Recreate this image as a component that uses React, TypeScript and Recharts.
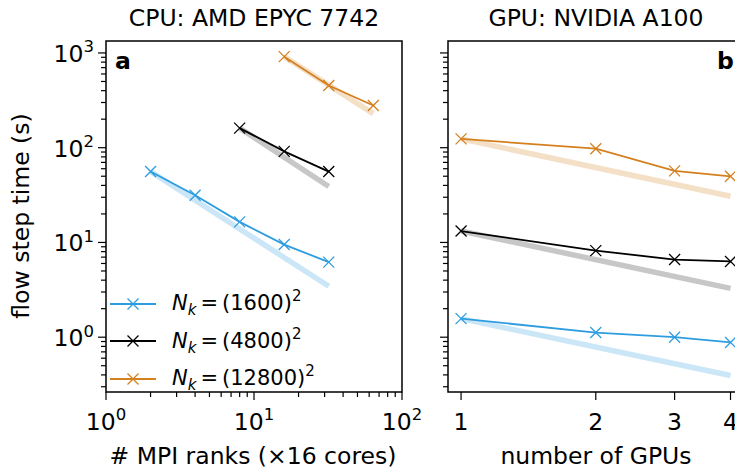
import React from 'react';
import { LineChart, Line, XAxis, YAxis, ReferenceArea, Legend } from 'recharts';

const FONT = '"DejaVu Sans", sans-serif';
const FS = 23.5;
const SUP = 16.5;
const BLUE = '#2d9de0';
const BLACK = '#000000';
const ORANGE = '#d4801f';

// legend
const seriesSizes = ['1600', '4800', '12800'];
const seriesColors = [BLUE, BLACK, ORANGE];

// CPU panel (a): # MPI ranks vs flow step time
const cpuRanksSmall = [2, 4, 8, 16, 32];
const cpuTimeSmall = [56, 31.5, 16.5, 9.5, 6.2];
const cpuRanksMid = [8, 16, 32];
const cpuTimeMid = [161, 91.5, 56];
const cpuRanksLarge = [16, 32, 64];
const cpuTimeLarge = [914, 453, 279];
// ideal scaling guides (endpoints)
const cpuIdealRanksSmall = [2, 32];
const cpuIdealSmall = [56, 3.45];
const cpuIdealRanksMid = [8, 32];
const cpuIdealMid = [161, 39];
const cpuIdealRanksLarge = [16, 64];
const cpuIdealLarge = [914, 229];

// GPU panel (b): number of GPUs vs flow step time
const gpuCount = [1, 2, 3, 4];
const gpuTimeSmall = [1.57, 1.12, 1.0, 0.88];
const gpuTimeMid = [13.2, 8.2, 6.6, 6.3];
const gpuTimeLarge = [124, 97.6, 56.9, 49.9];
const gpuIdealCount = [1, 4];
const gpuIdealSmall = [1.57, 0.394];
const gpuIdealMid = [13.2, 3.28];
const gpuIdealLarge = [124, 30.7];

// ticks
const yMajorTicks = [1, 10, 100, 1000];
const yMinorTicks = [0.3, 0.4, 0.5, 0.6, 0.7, 0.8, 0.9, 2, 3, 4, 5, 6, 7, 8, 9, 20, 30, 40, 50, 60, 70, 80, 90, 200, 300, 400, 500, 600, 700, 800, 900];
const cpuXMajorTicks = [1, 10, 100];
const cpuXMinorTicks = [2, 3, 4, 5, 6, 7, 8, 9, 20, 30, 40, 50, 60, 70, 80, 90];
const gpuXTicks = [1, 2, 3, 4];

const yDomain = [0.264, 1337];
const cpuXDomain = [1, 100];
const gpuXDomain = [0.935, 4.2];

const toPoints = (xs: number[], ys: number[]) => xs.map((x, i) => ({ x, y: ys[i] }));

const crossDot = (color: string) => (props: any) => {
  const { cx, cy, index } = props;
  if (cx == null || cy == null) return <g key={`d${index}`} />;
  const s = 5.5;
  return (
    <path
      key={`d${index}`}
      d={`M${cx - s},${cy - s}L${cx + s},${cy + s}M${cx - s},${cy + s}L${cx + s},${cy - s}`}
      stroke={color}
      strokeWidth={1.3}
      fill="none"
    />
  );
};

const expOf = (v: number) => Math.round(Math.log10(v));

const YTick = (props: any) => {
  const { x, y, payload, showLabel } = props;
  const v = payload.value;
  const major = yMajorTicks.includes(v);
  const len = major ? 8 : 5;
  return (
    <g>
      <line x1={x} x2={x - len} y1={y} y2={y} stroke="#000" strokeWidth={1.2} />
      {major && showLabel && (
        <text x={x - len - 4} y={y + 9} textAnchor="end" fontSize={FS} fontFamily={FONT} fill="#000">
          10<tspan dy={-9.5} fontSize={SUP}>{expOf(v)}</tspan>
        </text>
      )}
    </g>
  );
};

const CpuXTick = (props: any) => {
  const { x, y, payload } = props;
  const v = payload.value;
  const major = cpuXMajorTicks.includes(v);
  const len = major ? 8 : 5;
  return (
    <g>
      <line x1={x} x2={x} y1={y} y2={y + len} stroke="#000" strokeWidth={1.2} />
      {major && (
        <text x={x} y={y + 37.5} textAnchor="middle" fontSize={FS} fontFamily={FONT} fill="#000">
          10<tspan dy={-9.5} fontSize={SUP}>{expOf(v)}</tspan>
        </text>
      )}
    </g>
  );
};

const GpuXTick = (props: any) => {
  const { x, y, payload } = props;
  return (
    <g>
      <line x1={x} x2={x} y1={y} y2={y + 8} stroke="#000" strokeWidth={1.2} />
      <text x={x} y={y + 37.5} textAnchor="middle" fontSize={FS} fontFamily={FONT} fill="#000">
        {payload.value}
      </text>
    </g>
  );
};

const LegendContent = () => (
  <div style={{ fontFamily: FONT, fontSize: 21, color: '#000', lineHeight: 1 }}>
    {seriesSizes.map((size, i) => (
      <div key={size} style={{ display: 'flex', alignItems: 'center', height: 37.5 }}>
        <svg width={46} height={20} style={{ display: 'block' }}>
          <line x1={0} x2={46} y1={10} y2={10} stroke={seriesColors[i]} strokeWidth={1.8} />
          <path d="M17.5,4.5L28.5,15.5M17.5,15.5L28.5,4.5" stroke={seriesColors[i]} strokeWidth={1.3} fill="none" />
        </svg>
        <span style={{ marginLeft: 16, whiteSpace: 'nowrap' }}>
          <i>N</i>
          <span style={{ fontSize: 15, position: 'relative', top: 5 }}><i>k</i></span>
          <span style={{ marginLeft: 4, marginRight: 4 }}>=</span>
          {'('}{size}{')'}
          <span style={{ fontSize: 15, position: 'relative', top: -9 }}>2</span>
        </span>
      </div>
    ))}
  </div>
);

const guideLine = (key: string, pts: { x: number; y: number }[], color: string, op: number) => (
  <Line
    key={key}
    data={pts}
    dataKey="y"
    type="linear"
    stroke={color}
    strokeOpacity={op}
    strokeWidth={5.5}
    dot={false}
    activeDot={false}
    isAnimationActive={false}
    legendType="none"
  />
);

const dataLine = (key: string, pts: { x: number; y: number }[], color: string) => (
  <Line
    key={key}
    data={pts}
    dataKey="y"
    type="linear"
    stroke={color}
    strokeWidth={1.8}
    dot={crossDot(color)}
    activeDot={false}
    isAnimationActive={false}
  />
);

export default function App() {
  return (
    <div style={{ position: 'fixed', left: 0, top: 0, width: 735, height: 476, overflow: 'hidden', background: '#fff' }}>
      <div style={{ position: 'absolute', left: 0, top: 0 }}>
        <LineChart width={440} height={476} margin={{ top: 41, right: 38, bottom: 34, left: 46 }}>
          <XAxis
            dataKey="x"
            type="number"
            scale="log"
            domain={cpuXDomain}
            allowDataOverflow
            ticks={[...cpuXMajorTicks, ...cpuXMinorTicks]}
            interval={0}
            tickSize={0}
            tickMargin={0}
            tickLine={false}
            axisLine={false}
            height={50}
            tick={(p: any) => <CpuXTick {...p} />}
          />
          <YAxis
            type="number"
            scale="log"
            domain={yDomain}
            allowDataOverflow
            ticks={[...yMajorTicks, ...yMinorTicks]}
            interval={0}
            tickSize={0}
            tickMargin={0}
            tickLine={false}
            axisLine={false}
            width={60}
            tick={(p: any) => <YTick {...p} showLabel />}
          />
          {guideLine('ia', toPoints(cpuIdealRanksSmall, cpuIdealSmall), BLUE, 0.25)}
          {guideLine('ib', toPoints(cpuIdealRanksMid, cpuIdealMid), BLACK, 0.22)}
          {guideLine('ic', toPoints(cpuIdealRanksLarge, cpuIdealLarge), ORANGE, 0.25)}
          {dataLine('la', toPoints(cpuRanksSmall, cpuTimeSmall), BLUE)}
          {dataLine('lb', toPoints(cpuRanksMid, cpuTimeMid), BLACK)}
          {dataLine('lc', toPoints(cpuRanksLarge, cpuTimeLarge), ORANGE)}
          <ReferenceArea
            x1={cpuXDomain[0]}
            x2={cpuXDomain[1]}
            y1={yDomain[0]}
            y2={yDomain[1]}
            fill="none"
            fillOpacity={0}
            stroke="#000"
            strokeWidth={1.5}
          />
          <Legend
            layout="horizontal"
            verticalAlign="middle"
            align="center"
            content={() => <LegendContent />}
            wrapperStyle={{ position: 'absolute', left: 110, top: 285, width: 260, height: 115, right: 'auto', bottom: 'auto' }}
          />
        </LineChart>
      </div>
      <div style={{ position: 'absolute', left: 420, top: 0 }}>
        <LineChart width={330} height={476} margin={{ top: 41, right: 10, bottom: 34, left: 8 }}>
          <XAxis
            dataKey="x"
            type="number"
            scale="log"
            domain={gpuXDomain}
            allowDataOverflow
            ticks={gpuXTicks}
            interval={0}
            tickSize={0}
            tickMargin={0}
            tickLine={false}
            axisLine={false}
            height={50}
            tick={(p: any) => <GpuXTick {...p} />}
          />
          <YAxis
            type="number"
            scale="log"
            domain={yDomain}
            allowDataOverflow
            ticks={[...yMajorTicks, ...yMinorTicks]}
            interval={0}
            tickSize={0}
            tickMargin={0}
            tickLine={false}
            axisLine={false}
            width={20}
            tick={(p: any) => <YTick {...p} showLabel={false} />}
          />
          {guideLine('ga', toPoints(gpuIdealCount, gpuIdealSmall), BLUE, 0.25)}
          {guideLine('gb', toPoints(gpuIdealCount, gpuIdealMid), BLACK, 0.22)}
          {guideLine('gc', toPoints(gpuIdealCount, gpuIdealLarge), ORANGE, 0.25)}
          {dataLine('ma', toPoints(gpuCount, gpuTimeSmall), BLUE)}
          {dataLine('mb', toPoints(gpuCount, gpuTimeMid), BLACK)}
          {dataLine('mc', toPoints(gpuCount, gpuTimeLarge), ORANGE)}
          <ReferenceArea
            x1={gpuXDomain[0]}
            x2={gpuXDomain[1]}
            y1={yDomain[0]}
            y2={yDomain[1]}
            fill="none"
            fillOpacity={0}
            stroke="#000"
            strokeWidth={1.5}
          />
        </LineChart>
      </div>
      <svg width={735} height={476} style={{ position: 'absolute', left: 0, top: 0, pointerEvents: 'none' }}>
        <g fontFamily={FONT} fontSize={FS} fill="#000">
          <text x={254} y={26} textAnchor="middle">CPU: AMD EPYC 7742</text>
          <text x={596} y={26} textAnchor="middle">GPU: NVIDIA A100</text>
          <text x={253} y={464} textAnchor="middle"># MPI ranks (×16 cores)</text>
          <text x={596} y={464} textAnchor="middle">number of GPUs</text>
          <text x={29} y={216} textAnchor="middle" transform="rotate(-90, 29, 216)">flow step time (s)</text>
          <text x={115} y={69} fontWeight="bold">a</text>
          <text x={717} y={69} fontWeight="bold">b</text>
        </g>
      </svg>
    </div>
  );
}
